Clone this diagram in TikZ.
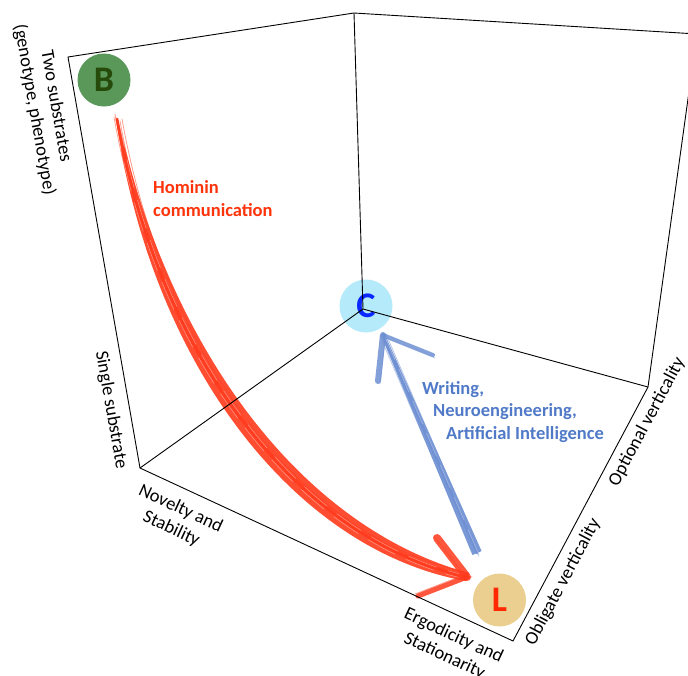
\documentclass[tikz,border=0pt]{standalone}
\usepackage{fontspec}
\setmainfont{Carlito}
\usepackage{tikz}

\definecolor{brushred}{RGB}{255,58,28}
\definecolor{homred}{RGB}{255,51,10}
\definecolor{brushblue}{RGB}{110,143,210}
\definecolor{writblue}{RGB}{80,122,200}
\definecolor{bgreen}{RGB}{90,152,90}
\definecolor{bdark}{RGB}{38,74,10}
\definecolor{ccyan}{RGB}{180,234,250}
\definecolor{cblue}{RGB}{10,40,255}
\definecolor{ltan}{RGB}{235,207,145}
\definecolor{lred}{RGB}{255,40,0}

\tikzset{
  boxline/.style={black, line width=0.9pt, line join=round},
  axislabel/.style={font=\fontsize{18.5}{22}\selectfont, align=center, inner sep=0pt},
  statedot/.style={circle, minimum size=53pt, inner sep=0pt, font=\fontsize{36}{36}\selectfont\bfseries},
  pathlabel/.style={font=\fontsize{18.5}{22.5}\selectfont\bfseries, align=left, inner sep=0pt},
  redbrush/.style={draw=brushred, line cap=round, line join=round, opacity=0.85},
  bluebrush/.style={draw=brushblue, line cap=round, line join=round, opacity=0.85},
}

\begin{document}
\begin{tikzpicture}[x=1pt, y=1pt]
    \useasboundingbox (0,0) rectangle (688,-675);
    \clip (0,0) rectangle (688,-675);
    % box corners
    \coordinate (tl) at (68,-57);
    \coordinate (tb) at (354,-13);
    \coordinate (tr) at (697,-34);
    \coordinate (bl) at (140,-468);
    \coordinate (cv) at (363,-309);
    \coordinate (rv) at (648,-387);
    \coordinate (br) at (513,-641);
    % arrow ends
    \coordinate (hom-tail) at (117,-119);
    \coordinate (hom-c1) at (160,-360);
    \coordinate (hom-c2) at (300,-540);
    \coordinate (hom-tip) at (467,-577);
    \coordinate (hom-barb1) at (437,-538);
    \coordinate (hom-barb2) at (418,-596);
    \coordinate (wri-tail) at (477,-553);
    \coordinate (wri-tip) at (383,-335);
    \coordinate (wri-barb1) at (378,-381);
    \coordinate (wri-barb2) at (433,-355);

    \node[statedot, fill=ccyan, text=cblue] (C) at (366,-306) {C};

    % red brush stroke, widening towards L
    \fill[brushred, opacity=0.9] (118,-118) .. controls (170,-356) and (306,-529) .. (469,-573)
        -- (466,-581) .. controls (294,-550) and (151,-364) .. (116,-119) -- cycle;
    \draw[redbrush, line width=3pt] (hom-tail) .. controls (hom-c1) and (hom-c2) .. (hom-tip);
    \foreach \dx/\dy in {3/-2, -3/2, 5/0, -2/5}
      \draw[redbrush, line width=0.8pt, opacity=0.5, transform canvas={shift={(\dx,\dy)}}] (hom-tail) .. controls (hom-c1) and (hom-c2) .. (hom-tip);
    \foreach \dx/\dy in {1.5/1, -1.5/-2}
      \draw[white, line width=0.5pt, opacity=0.4, dash pattern=on 30pt off 12pt, transform canvas={shift={(\dx,\dy)}}] (hom-tail) .. controls (hom-c1) and (hom-c2) .. (hom-tip);
    \draw[redbrush, line width=8pt] (hom-barb1) -- (hom-tip);
    \draw[redbrush, line width=5pt] (hom-tip) -- (hom-barb2);
    \draw[redbrush, line width=0.8pt, opacity=0.5, transform canvas={shift={(-3,2)}}] (hom-barb1) -- (hom-tip) -- (hom-barb2);

    % blue brush stroke, narrowing towards C
    \fill[brushblue, opacity=0.9] (481.6,-551) -- (384.8,-334.2) -- (381.2,-335.8) -- (472.4,-555) -- cycle;
    \draw[bluebrush, line width=3pt] (wri-tail) -- (wri-tip);
    \foreach \dx/\dy in {3/1, -3/-1, 2/-3}
      \draw[bluebrush, line width=0.8pt, opacity=0.5, transform canvas={shift={(\dx,\dy)}}] (wri-tail) -- (wri-tip);
    \draw[white, line width=0.5pt, opacity=0.4, dash pattern=on 25pt off 10pt, transform canvas={shift={(1,0.5)}}] (wri-tail) -- (wri-tip);
    \draw[bluebrush, line width=6pt] (wri-barb1) -- (wri-tip);
    \draw[bluebrush, line width=4pt] (wri-tip) -- (wri-barb2);
    \draw[bluebrush, line width=0.8pt, opacity=0.5, transform canvas={shift={(2,-3)}}] (wri-barb1) -- (wri-tip) -- (wri-barb2);

    % box
    \draw[boxline] (tr) -- (tb) -- (tl) -- (bl) -- (br) -- (rv) -- (tr);
    \draw[boxline] (tb) -- (cv);
    \draw[boxline] (bl) -- (cv) -- (rv);

    \node[statedot, fill=bgreen, text=bdark] (B) at (104,-80) {B};
    \node[statedot, fill=ltan, text=lred] (L) at (499.5,-600) {L};

    % axis labels
    \node[axislabel, rotate=-80] (twosub) at (45,-108) {Two substrates\\(genotype, phenotype)};
    \node[axislabel, rotate=-80] (onesub) at (111,-410) {Single substrate};
    \node[axislabel, rotate=-25] (novel) at (176,-519) {Novelty and\\Stability};
    \node[axislabel, rotate=-25] (ergod) at (449,-646) {Ergodicity and\\Stationarity};
    \node[axislabel, rotate=62] (oblig) at (563,-582) {Obligate verticality};
    \node[axislabel, rotate=62] (option) at (647,-422) {Optional verticality};

    % path labels
    \node[pathlabel, text=homred, anchor=base west] (hominin) at (153,-216) {Hominin\\communication};
    \node[pathlabel, text=writblue, anchor=base west] (writing) at (422,-439) {Writing,\\\hspace*{11pt}Neuroengineering,\\\hspace*{24pt}Artificial Intelligence};
\end{tikzpicture}
\end{document}
